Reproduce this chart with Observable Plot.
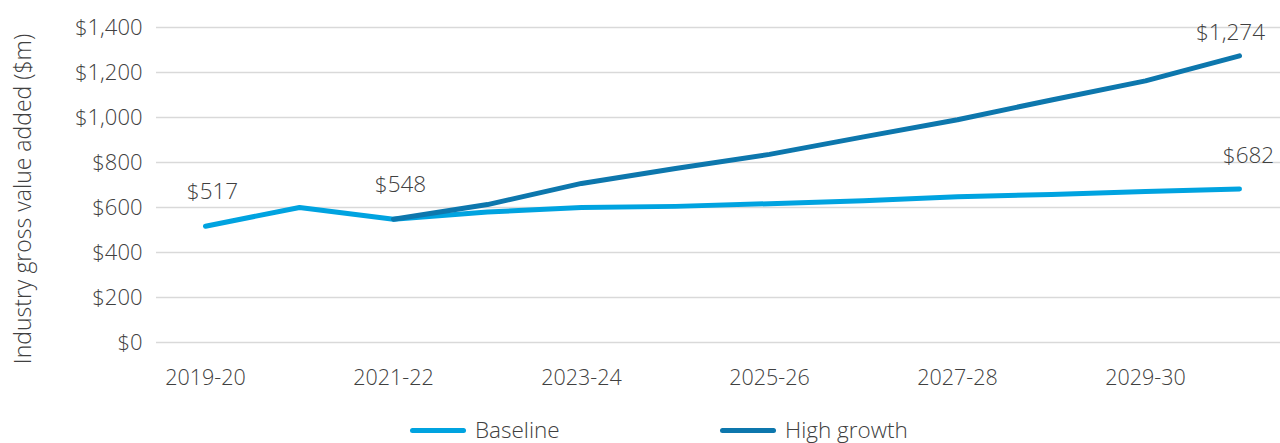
<!DOCTYPE html>
<html>
<head>
<meta charset="utf-8">
<script src="https://cdn.jsdelivr.net/npm/d3@7"></script>
<script src="https://cdn.jsdelivr.net/npm/@observablehq/plot@0.6"></script>
<style>
  html, body { margin: 0; padding: 0; background: #fff; }
  body { width: 1280px; height: 443px; overflow: hidden; font-family: "Open Sans", sans-serif; font-weight: 300; color: #404040; position: relative; }
  #chart svg { display: block; }
  #legend { position: relative; height: 24px; font-size: 22.5px; }
  .item { position: absolute; top: 0; display: flex; align-items: center; height: 24px; line-height: 24px; }
  .sw { width: 56px; height: 5px; border-radius: 3px; margin-right: 9px; }
  #ylabel { position: absolute; left: 22px; top: 199px; transform: translate(-50%, -50%) rotate(-90deg); white-space: nowrap; font-size: 23px; line-height: 1; }
</style>
</head>
<body>
<div id="chart"></div>
<div id="legend"></div>
<div id="ylabel"></div>
<script>
const years = ["2019-20","2020-21","2021-22","2022-23","2023-24","2024-25","2025-26","2026-27","2027-28","2028-29","2029-30","2030-31"];
const tickYears = ["2019-20","2021-22","2023-24","2025-26","2027-28","2029-30"];
const baseline = [517, 600, 548, 580, 600, 605, 617, 630, 648, 658, 671, 682];
const highGrowthYears = ["2021-22","2022-23","2023-24","2024-25","2025-26","2026-27","2027-28","2028-29","2029-30","2030-31"];
const highGrowth = [548, 613, 707, 773, 836, 914, 990, 1078, 1163, 1274];
const yTicks = [0, 200, 400, 600, 800, 1000, 1200, 1400];
const seriesNames = ["Baseline", "High growth"];
const seriesColors = ["#00A3E0", "#0D77AD"];
const yLabel = "Industry gross value added ($m)";

const baseData = years.map((y, i) => ({year: y, value: baseline[i]}));
const highData = highGrowthYears.map((y, i) => ({year: y, value: highGrowth[i]}));
const fmt = v => "$" + d3.format(",")(v);

const textColor = "#404040";
const chart = Plot.plot({
  width: 1280,
  height: 418,
  marginLeft: 156,
  marginRight: 0,
  marginTop: 27,
  marginBottom: 76,
  style: {fontFamily: "'Open Sans', sans-serif", fontWeight: 300, color: textColor, background: "#fff"},
  x: {type: "point", domain: years, range: [203, 1241], padding: 0},
  y: {domain: [0, 1400]},
  marks: [
    Plot.gridY(yTicks, {stroke: "#d9d9d9", strokeOpacity: 1, strokeWidth: 1.5}),
    Plot.axisY(yTicks, {tickSize: 0, tickPadding: 14, fontSize: 22, tickFormat: fmt, fill: textColor, label: null}),
    Plot.axisX(tickYears, {tickSize: 0, tickPadding: 27, fontSize: 21.5, fill: textColor, label: null}),
    Plot.line(baseData, {x: "year", y: "value", stroke: seriesColors[0], strokeWidth: 5, strokeLinecap: "round", strokeLinejoin: "round"}),
    Plot.line(highData, {x: "year", y: "value", stroke: seriesColors[1], strokeWidth: 5, strokeLinecap: "round", strokeLinejoin: "round"}),
    Plot.text(baseData.filter((d, i) => i === 0 || i === 2), {x: "year", y: "value", text: d => fmt(d.value), dy: -34, dx: 7, fontSize: 22.5, fill: textColor}),
    Plot.text(baseData.slice(-1), {x: "year", y: "value", text: d => fmt(d.value), dy: -33, dx: 9, fontSize: 22.5, fill: textColor}),
    Plot.text(highData.slice(-1), {x: "year", y: "value", text: d => fmt(d.value), dy: -23, dx: -9, fontSize: 22.5, fill: textColor})
  ]
});
document.getElementById("chart").appendChild(chart);
document.getElementById("ylabel").textContent = yLabel;

const legend = document.getElementById("legend");
const lefts = [410, 720];
seriesNames.forEach((name, i) => {
  const it = document.createElement("div");
  it.className = "item";
  it.style.left = lefts[i] + "px";
  it.innerHTML = `<div class="sw" style="background:${seriesColors[i]}"></div><span>${name}</span>`;
  legend.appendChild(it);
});
</script>
</body>
</html>
